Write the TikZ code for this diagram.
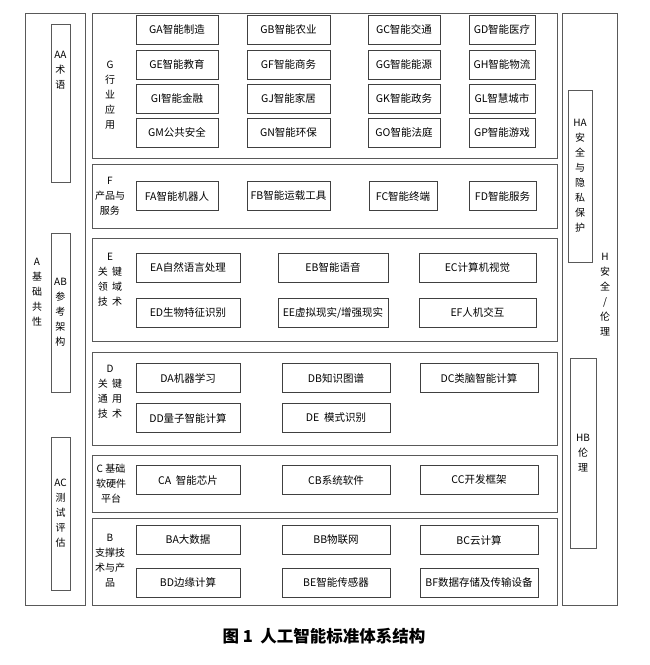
\documentclass[tikz,border=0pt]{standalone}
\usepackage{fontspec}
\setmainfont{Noto Sans CJK SC}
\usetikzlibrary{positioning}

\tikzset{
  box/.style={draw=black!75,line width=0.9pt,minimum height=29pt,inner sep=0pt,font=\fontsize{10.5}{12}\selectfont},
  panel/.style={draw=black!65,line width=0.8pt},
  lab/.style={align=center,font=\fontsize{10}{15}\selectfont,inner sep=0pt}
}

\begin{document}
\begin{tikzpicture}[x=1pt,y=-1pt]
\useasboundingbox (0,0) rectangle (649,665);

% left column A
\draw[panel] (25,13) rectangle (85,605);
\node[lab] (a) at (37,292) {A\\基\\础\\共\\性};
\draw[panel] (51,24) rectangle (70,182);
\node[lab] (aa) at (60.5,70) {AA\\术\\语};
\draw[panel] (51,233) rectangle (70,392);
\node[lab] (ab) at (60.5,312) {AB\\参\\考\\架\\构};
\draw[panel] (51,437) rectangle (70,590);
\node[lab] (ac) at (60.5,513) {AC\\测\\试\\评\\估};

% right column H
\draw[panel] (562,13) rectangle (617,605);
\node[lab] (h) at (605,295) {H\\安\\全\\/\\伦\\理};
\draw[panel] (568,90) rectangle (592,262);
\node[lab] (ha) at (580,176) {HA\\安\\全\\与\\隐\\私\\保\\护};
\draw[panel] (570,358) rectangle (596,548);
\node[lab] (hb) at (583,453) {HB\\伦\\理};

% G
\draw[panel] (92,13) rectangle (557,158);
\node[lab] (g) at (110,95) {G\\行\\业\\应\\用};
\node[box,minimum width=82pt] (ga) at (177,29.5) {GA智能制造};
\node[box,minimum width=83pt] (gb) at (288.5,29.5) {GB智能农业};
\node[box,minimum width=72pt] (gc) at (404,29.5) {GC智能交通};
\node[box,minimum width=66pt] (gd) at (502,29.5) {GD智能医疗};
\node[box,minimum width=82pt] (ge) at (177,64.5) {GE智能教育};
\node[box,minimum width=83pt] (gf) at (288.5,64.5) {GF智能商务};
\node[box,minimum width=72pt] (gg) at (404,64.5) {GG智能能源};
\node[box,minimum width=66pt] (gh) at (502,64.5) {GH智能物流};
\node[box,minimum width=82pt] (gi) at (177,98.5) {GI智能金融};
\node[box,minimum width=83pt] (gj) at (288.5,98.5) {GJ智能家居};
\node[box,minimum width=72pt] (gk) at (404,98.5) {GK智能政务};
\node[box,minimum width=66pt] (gl) at (502,98.5) {GL智慧城市};
\node[box,minimum width=82pt] (gm) at (177,132.5) {GM公共安全};
\node[box,minimum width=83pt] (gn) at (288.5,132.5) {GN智能环保};
\node[box,minimum width=72pt] (go) at (404,132.5) {GO智能法庭};
\node[box,minimum width=66pt] (gp) at (502,132.5) {GP智能游戏};

% F
\draw[panel] (92,164) rectangle (557,228);
\node[lab] (f) at (110,196) {F\\产品与\\服务};
\node[box,minimum width=82pt] (fa) at (177,196) {FA智能机器人};
\node[box,minimum width=83pt] (fb) at (288.5,196) {FB智能运载工具};
\node[box,minimum width=68pt] (fc) at (403,196) {FC智能终端};
\node[box,minimum width=67pt] (fd) at (502.5,196) {FD智能服务};

% E
\draw[panel] (92,238) rectangle (557,341);
\node[lab] (e) at (110,280) {E\\关\ \ 键\\领\ \ 域\\技\ \ 术};
\node[box,minimum width=104pt] (ea) at (188,267.5) {EA自然语言处理};
\node[box,minimum width=110pt] (eb) at (333,267.5) {EB智能语音};
\node[box,minimum width=117pt] (ec) at (477.5,267.5) {EC计算机视觉};
\node[box,minimum width=104pt] (ed) at (188,312.5) {ED生物特征识别};
\node[box,minimum width=110pt] (ee) at (333,312.5) {EE虚拟现实/增强现实};
\node[box,minimum width=117pt] (ef) at (477.5,312.5) {EF人机交互};

% D
\draw[panel] (92,352) rectangle (557,445);
\node[lab] (d) at (110,392) {D\\关\ \ 键\\通\ \ 用\\技\ \ 术};
\node[box,minimum width=104pt] (da) at (188,378) {DA机器学习};
\node[box,minimum width=108pt] (db) at (336,378) {DB知识图谱};
\node[box,minimum width=118pt] (dc) at (479,378) {DC类脑智能计算};
\node[box,minimum width=104pt] (dd) at (188,418) {DD量子智能计算};
\node[box,minimum width=108pt] (de) at (336,418) {DE\ \ 模式识别};

% C
\draw[panel] (92,455) rectangle (557,512);
\node[lab] (c) at (111,484) {C 基础\\软硬件\\平台};
\node[box,minimum width=104pt] (ca) at (188,480) {CA\ \ 智能芯片};
\node[box,minimum width=108pt] (cb) at (336,480) {CB系统软件};
\node[box,minimum width=118pt] (cc) at (479,480) {CC开发框架};

% B
\draw[panel] (92,518) rectangle (557,605);
\node[lab] (b) at (110,561) {B\\支撑技\\术与产\\品};
\node[box,minimum width=104pt] (ba) at (188,540) {BA大数据};
\node[box,minimum width=108pt] (bb) at (336,540) {BB物联网};
\node[box,minimum width=118pt] (bc) at (479,540) {BC云计算};
\node[box,minimum width=104pt] (bd) at (188,582.5) {BD边缘计算};
\node[box,minimum width=108pt] (be) at (336,582.5) {BE智能传感器};
\node[box,minimum width=118pt] (bf) at (479,582.5) {BF数据存储及传输设备};

% caption
\node[font=\fontsize{16.5}{19}\selectfont\bfseries] (title) at (324,636) {图 1\ \ 人工智能标准体系结构};
\end{tikzpicture}
\end{document}
